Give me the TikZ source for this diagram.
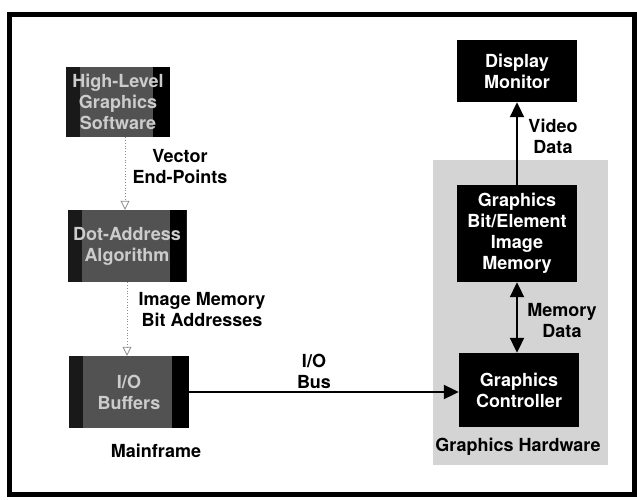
\documentclass[tikz,border=0pt]{standalone}
\usepackage{fontspec}
\setmainfont{TeX Gyre Heros}
\usetikzlibrary{arrows.meta}
\begin{document}
\begin{tikzpicture}[x=1pt,y=-1pt,
  blk/.style={draw=none,fill=black,text=white,align=center,inner sep=0pt,font=\fontsize{18}{21}\selectfont\bfseries},
  fade/.style={draw=none,fill=black!68,text=white!80!black,align=center,inner sep=0pt,font=\fontsize{18}{21}\selectfont\bfseries,
    path picture={
      \fill[black!90] (path picture bounding box.north west) rectangle ([xshift=14pt]path picture bounding box.south west);
      \fill[black] ([xshift=-17pt]path picture bounding box.north east) rectangle (path picture bounding box.south east);}},
  lbl/.style={align=center,inner sep=0pt,font=\fontsize{18}{21}\selectfont\bfseries},
  sarrow/.style={line width=2pt,-{Triangle[length=15pt,width=14pt]}},
  darrow/.style={line width=2pt,{Triangle[length=15pt,width=14pt]}-{Triangle[length=15pt,width=14pt]}},
  dotarrow/.style={black!45,line width=0.8pt,dotted,-{Triangle[length=9pt,width=9pt,open]}}]
\useasboundingbox (0,0) rectangle (637,500);
% frame
\draw[line width=5pt] (9,15) rectangle (634,494);
% shaded hardware region
\fill[black!17] (433,160) rectangle (608,465);
% left column
\node[fade,minimum width=104pt,minimum height=70pt] (hl) at (118,102) {High-Level\\Graphics\\Software};
\node[fade,minimum width=119pt,minimum height=72pt] (da) at (127,246) {Dot-Address\\Algorithm};
\node[fade,minimum width=120pt,minimum height=72pt] (io) at (129,392) {I/O\\Buffers};
\node[lbl] (ve) at (180,167) {Vector\\End-Points};
\node[lbl] (ia) at (202,310) {Image Memory\\Bit Addresses};
\node[lbl] (mf) at (156,451) {Mainframe};
% right column
\node[blk,minimum width=120pt,minimum height=62pt] (dm) at (517,71) {Display\\Monitor};
\node[blk,minimum width=120pt,minimum height=97pt] (gm) at (517,233.5) {Graphics\\Bit/Element\\Image\\Memory};
\node[blk,minimum width=120pt,minimum height=74pt] (gc) at (519,390) {Graphics\\Controller};
\node[lbl] (vd) at (553,136) {Video\\Data};
\node[lbl] (md) at (562,321) {Memory\\Data};
\node[lbl] (gh) at (518,447) {Graphics Hardware};
\node[lbl] (bus) at (314,371) {I/O\\Bus};
% connectors
\draw[dotarrow] (hl.south -| 125,0) -- (da.north -| 125,0);
\draw[dotarrow] (da.south -| 127,0) -- (io.north -| 127,0);
\draw[sarrow] (io.east) -- (gc.west |- io.east);
\draw[sarrow] (gm.north) -- (dm.south);
\draw[darrow] (gm.south) -- (gm.south |- gc.north);
\end{tikzpicture}
\end{document}
